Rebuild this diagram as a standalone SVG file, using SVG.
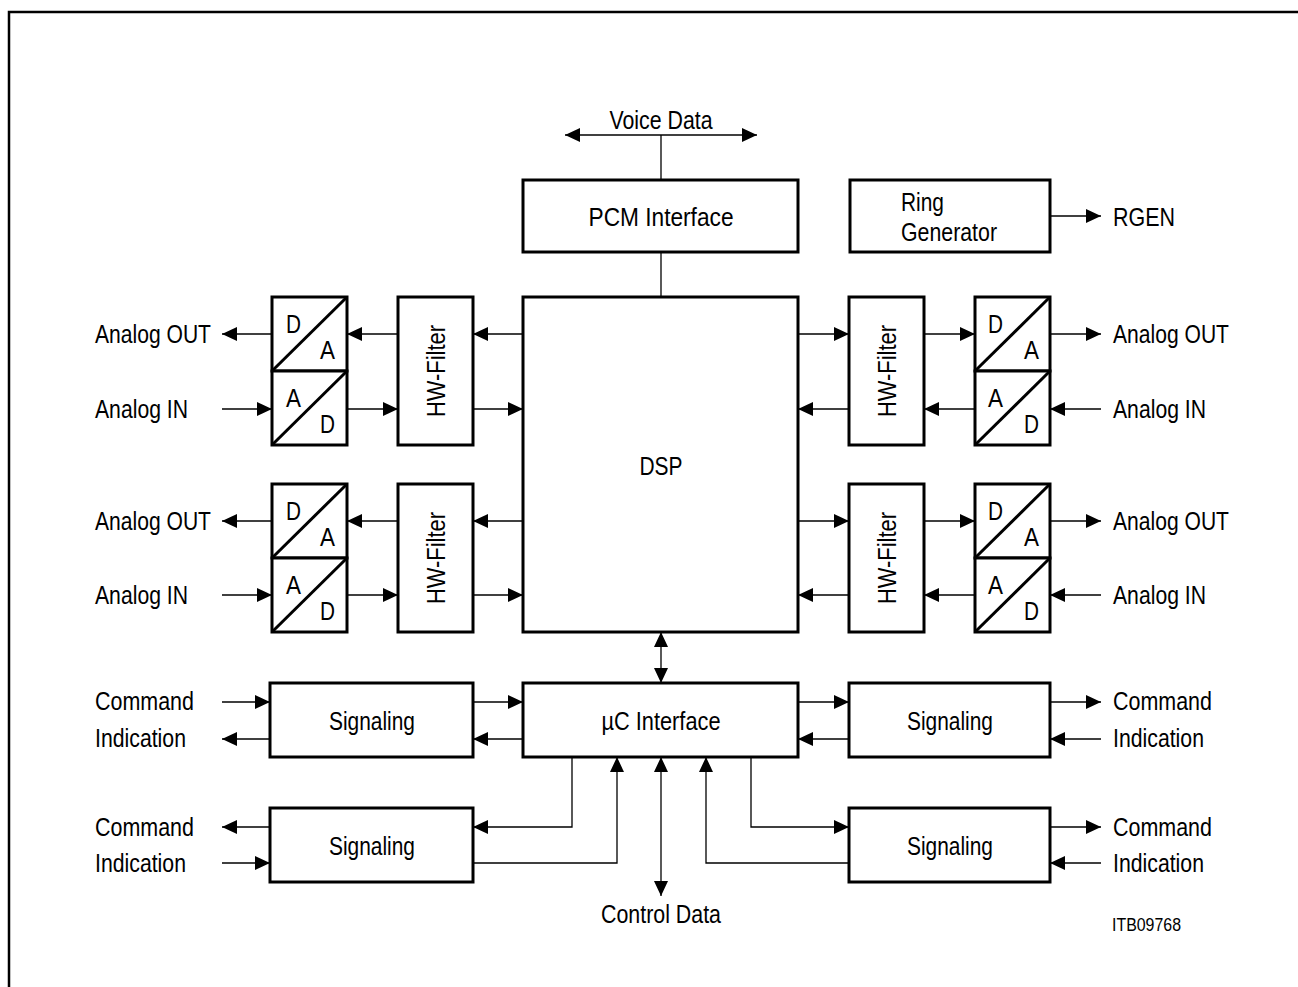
<svg xmlns="http://www.w3.org/2000/svg" width="1298" height="987" viewBox="0 0 1298 987">
<style>
text{font-family:"Liberation Sans",Arial,sans-serif;font-size:26px;fill:#000}
.box{fill:#fff;stroke:#000;stroke-width:3}
.diag{stroke:#000;stroke-width:3;fill:none}
.c{stroke:#000;stroke-width:1.3;fill:none}
.a{marker-end:url(#ah)}
.aa{marker-start:url(#ah);marker-end:url(#ah)}
.m{text-anchor:middle}
.frame{stroke:#000;stroke-width:2.5;fill:none}
.l{font-size:25px}
</style>
<defs>
<marker id="ah" markerUnits="userSpaceOnUse" viewBox="0 0 15 14" refX="15" refY="7" markerWidth="15" markerHeight="14" orient="auto-start-reverse">
<path d="M0,0 L15,7 L0,14 z" fill="#000"/>
</marker>
</defs>
<path class="frame" d="M9,987 V12 H1298"/>

<g id="connectors">
<path class="c aa" d="M565,135 H757"/>
<path class="c" d="M661,135 V180"/>
<path class="c" d="M661,252 V297"/>
<path class="c a" d="M1050,216 H1101"/>
<path class="c a" d="M523,334 H473"/>
<path class="c a" d="M398,334 H347"/>
<path class="c a" d="M272,334 H222"/>
<path class="c a" d="M222,409 H272"/>
<path class="c a" d="M347,409 H398"/>
<path class="c a" d="M473,409 H523"/>
<path class="c a" d="M523,521 H473"/>
<path class="c a" d="M398,521 H347"/>
<path class="c a" d="M272,521 H222"/>
<path class="c a" d="M222,595 H272"/>
<path class="c a" d="M347,595 H398"/>
<path class="c a" d="M473,595 H523"/>
<path class="c a" d="M798,334 H849"/>
<path class="c a" d="M924,334 H975"/>
<path class="c a" d="M1050,334 H1101"/>
<path class="c a" d="M1101,409 H1050"/>
<path class="c a" d="M975,409 H924"/>
<path class="c a" d="M849,409 H798"/>
<path class="c a" d="M798,521 H849"/>
<path class="c a" d="M924,521 H975"/>
<path class="c a" d="M1050,521 H1101"/>
<path class="c a" d="M1101,595 H1050"/>
<path class="c a" d="M975,595 H924"/>
<path class="c a" d="M849,595 H798"/>
<path class="c aa" d="M661,632 V683"/>
<path class="c a" d="M222,702 H270"/>
<path class="c a" d="M270,739 H222"/>
<path class="c a" d="M473,702 H523"/>
<path class="c a" d="M523,739 H473"/>
<path class="c a" d="M798,702 H849"/>
<path class="c a" d="M849,739 H798"/>
<path class="c a" d="M1050,702 H1101"/>
<path class="c a" d="M1101,739 H1050"/>
<path class="c a" d="M270,827 H222"/>
<path class="c a" d="M222,863 H270"/>
<path class="c a" d="M1050,827 H1101"/>
<path class="c a" d="M1101,863 H1050"/>
<path class="c a" d="M572,757 V827 H473"/>
<path class="c a" d="M473,863 H617 V757"/>
<path class="c aa" d="M661,757 V896"/>
<path class="c a" d="M849,863 H706 V757"/>
<path class="c a" d="M751,757 V827 H849"/>
</g>

<text class="m" x="661" y="129" textLength="103" lengthAdjust="spacingAndGlyphs">Voice Data</text>

<g id="pcm">
<rect class="box" x="523" y="180" width="275" height="72"/>
<text class="m" x="661" y="226" textLength="145" lengthAdjust="spacingAndGlyphs">PCM Interface</text>
</g>

<g id="ringgen">
<rect class="box" x="850" y="180" width="200" height="72"/>
<text x="901" y="211" textLength="43" lengthAdjust="spacingAndGlyphs">Ring</text>
<text x="901" y="241" textLength="96" lengthAdjust="spacingAndGlyphs">Generator</text>
</g>
<text x="1113" y="226" textLength="62" lengthAdjust="spacingAndGlyphs">RGEN</text>

<g id="dsp">
<rect class="box" x="523" y="297" width="275" height="335"/>
<text class="m" x="661" y="475" textLength="43" lengthAdjust="spacingAndGlyphs">DSP</text>
</g>

<g id="da-l1">
<rect class="box" x="272" y="297" width="75" height="74"/>
<path class="diag" d="M272,371 L347,297"/>
<text class="l" x="286" y="333" textLength="15" lengthAdjust="spacingAndGlyphs">D</text><text class="l" x="320" y="359" textLength="15" lengthAdjust="spacingAndGlyphs">A</text>
</g>
<g id="ad-l1">
<rect class="box" x="272" y="371" width="75" height="74"/>
<path class="diag" d="M272,445 L347,371"/>
<text class="l" x="286" y="407" textLength="15" lengthAdjust="spacingAndGlyphs">A</text><text class="l" x="320" y="433" textLength="15" lengthAdjust="spacingAndGlyphs">D</text>
</g>
<g id="hw-l1">
<rect class="box" x="398" y="297" width="75" height="148"/>
<text class="m" transform="translate(445,371) rotate(-90)" x="0" y="0" textLength="92" lengthAdjust="spacingAndGlyphs">HW-Filter</text>
</g>

<g id="da-l2">
<rect class="box" x="272" y="484" width="75" height="74"/>
<path class="diag" d="M272,558 L347,484"/>
<text class="l" x="286" y="520" textLength="15" lengthAdjust="spacingAndGlyphs">D</text><text class="l" x="320" y="546" textLength="15" lengthAdjust="spacingAndGlyphs">A</text>
</g>
<g id="ad-l2">
<rect class="box" x="272" y="558" width="75" height="74"/>
<path class="diag" d="M272,632 L347,558"/>
<text class="l" x="286" y="594" textLength="15" lengthAdjust="spacingAndGlyphs">A</text><text class="l" x="320" y="620" textLength="15" lengthAdjust="spacingAndGlyphs">D</text>
</g>
<g id="hw-l2">
<rect class="box" x="398" y="484" width="75" height="148"/>
<text class="m" transform="translate(445,558) rotate(-90)" x="0" y="0" textLength="92" lengthAdjust="spacingAndGlyphs">HW-Filter</text>
</g>

<g id="hw-r1">
<rect class="box" x="849" y="297" width="75" height="148"/>
<text class="m" transform="translate(896,371) rotate(-90)" x="0" y="0" textLength="92" lengthAdjust="spacingAndGlyphs">HW-Filter</text>
</g>
<g id="da-r1">
<rect class="box" x="975" y="297" width="75" height="74"/>
<path class="diag" d="M975,371 L1050,297"/>
<text class="l" x="988" y="333" textLength="15" lengthAdjust="spacingAndGlyphs">D</text><text class="l" x="1024" y="359" textLength="15" lengthAdjust="spacingAndGlyphs">A</text>
</g>
<g id="ad-r1">
<rect class="box" x="975" y="371" width="75" height="74"/>
<path class="diag" d="M975,445 L1050,371"/>
<text class="l" x="988" y="407" textLength="15" lengthAdjust="spacingAndGlyphs">A</text><text class="l" x="1024" y="433" textLength="15" lengthAdjust="spacingAndGlyphs">D</text>
</g>

<g id="hw-r2">
<rect class="box" x="849" y="484" width="75" height="148"/>
<text class="m" transform="translate(896,558) rotate(-90)" x="0" y="0" textLength="92" lengthAdjust="spacingAndGlyphs">HW-Filter</text>
</g>
<g id="da-r2">
<rect class="box" x="975" y="484" width="75" height="74"/>
<path class="diag" d="M975,558 L1050,484"/>
<text class="l" x="988" y="520" textLength="15" lengthAdjust="spacingAndGlyphs">D</text><text class="l" x="1024" y="546" textLength="15" lengthAdjust="spacingAndGlyphs">A</text>
</g>
<g id="ad-r2">
<rect class="box" x="975" y="558" width="75" height="74"/>
<path class="diag" d="M975,632 L1050,558"/>
<text class="l" x="988" y="594" textLength="15" lengthAdjust="spacingAndGlyphs">A</text><text class="l" x="1024" y="620" textLength="15" lengthAdjust="spacingAndGlyphs">D</text>
</g>

<text x="95" y="343" textLength="116" lengthAdjust="spacingAndGlyphs">Analog OUT</text>
<text x="95" y="418" textLength="93" lengthAdjust="spacingAndGlyphs">Analog IN</text>
<text x="95" y="530" textLength="116" lengthAdjust="spacingAndGlyphs">Analog OUT</text>
<text x="95" y="604" textLength="93" lengthAdjust="spacingAndGlyphs">Analog IN</text>
<text x="1113" y="343" textLength="116" lengthAdjust="spacingAndGlyphs">Analog OUT</text>
<text x="1113" y="418" textLength="93" lengthAdjust="spacingAndGlyphs">Analog IN</text>
<text x="1113" y="530" textLength="116" lengthAdjust="spacingAndGlyphs">Analog OUT</text>
<text x="1113" y="604" textLength="93" lengthAdjust="spacingAndGlyphs">Analog IN</text>

<g id="uc">
<rect class="box" x="523" y="683" width="275" height="74"/>
<text class="m" x="661" y="730" textLength="119" lengthAdjust="spacingAndGlyphs">µC Interface</text>
</g>

<g id="sig-l1">
<rect class="box" x="270" y="683" width="203" height="74"/>
<text class="m" x="372" y="730" textLength="86" lengthAdjust="spacingAndGlyphs">Signaling</text>
</g>
<g id="sig-r1">
<rect class="box" x="849" y="683" width="201" height="74"/>
<text class="m" x="950" y="730" textLength="86" lengthAdjust="spacingAndGlyphs">Signaling</text>
</g>
<g id="sig-l2">
<rect class="box" x="270" y="808" width="203" height="74"/>
<text class="m" x="372" y="855" textLength="86" lengthAdjust="spacingAndGlyphs">Signaling</text>
</g>
<g id="sig-r2">
<rect class="box" x="849" y="808" width="201" height="74"/>
<text class="m" x="950" y="855" textLength="86" lengthAdjust="spacingAndGlyphs">Signaling</text>
</g>

<text x="95" y="710" textLength="99" lengthAdjust="spacingAndGlyphs">Command</text>
<text x="95" y="747" textLength="91" lengthAdjust="spacingAndGlyphs">Indication</text>
<text x="95" y="836" textLength="99" lengthAdjust="spacingAndGlyphs">Command</text>
<text x="95" y="872" textLength="91" lengthAdjust="spacingAndGlyphs">Indication</text>
<text x="1113" y="710" textLength="99" lengthAdjust="spacingAndGlyphs">Command</text>
<text x="1113" y="747" textLength="91" lengthAdjust="spacingAndGlyphs">Indication</text>
<text x="1113" y="836" textLength="99" lengthAdjust="spacingAndGlyphs">Command</text>
<text x="1113" y="872" textLength="91" lengthAdjust="spacingAndGlyphs">Indication</text>

<text class="m" x="661" y="923" textLength="120" lengthAdjust="spacingAndGlyphs">Control Data</text>
<text x="1112" y="931" style="font-size:18px" textLength="69" lengthAdjust="spacingAndGlyphs">ITB09768</text>
</svg>
